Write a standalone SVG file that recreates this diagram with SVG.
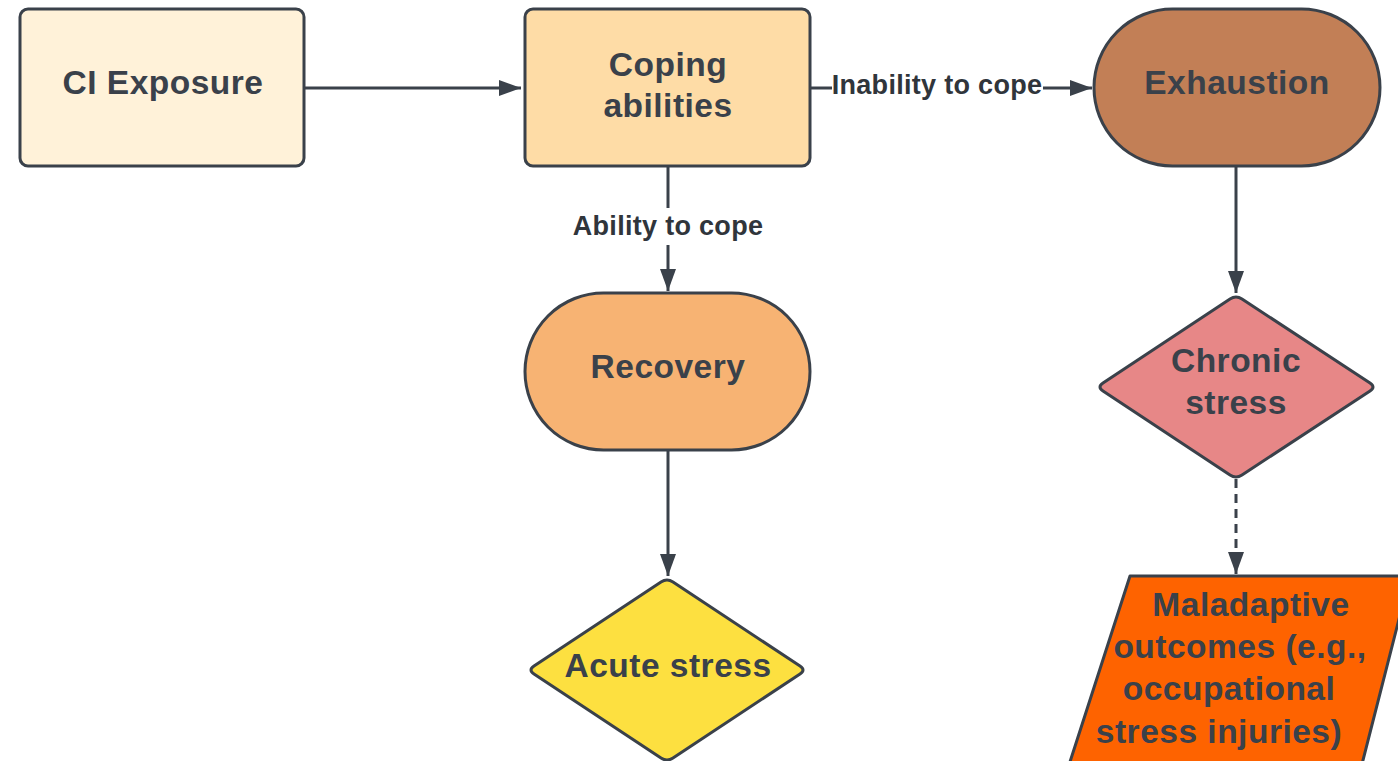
<svg xmlns="http://www.w3.org/2000/svg" width="1398" height="761" viewBox="0 0 1398 761">
<style>
.s{stroke:#3a414a;stroke-width:3;stroke-linejoin:round}
.t{font-family:"Liberation Sans",Arial,sans-serif;font-weight:bold;font-size:33.5px;letter-spacing:0.5px;fill:#3a414a;text-anchor:middle}
.l{font-family:"Liberation Sans",Arial,sans-serif;font-weight:bold;font-size:27px;letter-spacing:0.3px;fill:#30353b;text-anchor:middle}
.c{fill:none;stroke:#3a414a;stroke-width:3}
</style>
<defs>
<marker id="a" markerWidth="24" markerHeight="18" refX="22" refY="8" orient="auto" markerUnits="userSpaceOnUse">
<path d="M0,0 L22,8 L0,16 Z" fill="#3a414a"/>
</marker>
</defs>
<rect width="1398" height="761" fill="#ffffff"/>
<g id="connectors">
<line class="c" x1="305" y1="88" x2="521" y2="88" marker-end="url(#a)"/>
<line class="c" x1="810" y1="88" x2="832" y2="88"/>
<line class="c" x1="1043" y1="88" x2="1092" y2="88" marker-end="url(#a)"/>
<text class="l" x="937" y="94">Inability to cope</text>
<line class="c" x1="668" y1="166" x2="668" y2="208"/>
<line class="c" x1="668" y1="245" x2="668" y2="291" marker-end="url(#a)"/>
<text class="l" x="668" y="235">Ability to cope</text>
<line class="c" x1="1236" y1="166" x2="1236" y2="293" marker-end="url(#a)"/>
<line class="c" x1="668" y1="450" x2="668" y2="576" marker-end="url(#a)"/>
<line class="c" x1="1236" y1="479" x2="1236" y2="574" stroke-dasharray="9,6" marker-end="url(#a)"/>
</g>
<g id="ci-exposure">
<rect class="s" x="20" y="9" width="284" height="157" rx="8" fill="#fff2d9"/>
<text class="t" x="163" y="94">CI Exposure</text>
</g>
<g id="coping">
<rect class="s" x="525" y="9" width="285" height="157" rx="8" fill="#fedca6"/>
<text class="t" x="668" y="76">Coping</text>
<text class="t" x="668" y="117">abilities</text>
</g>
<g id="exhaustion">
<rect class="s" x="1094" y="9" width="286" height="157" rx="78.5" fill="#c27f56"/>
<text class="t" x="1237" y="94">Exhaustion</text>
</g>
<g id="recovery">
<rect class="s" x="525" y="293" width="285" height="157" rx="78.5" fill="#f7b373"/>
<text class="t" x="668" y="378">Recovery</text>
</g>
<g id="chronic-stress">
<path class="s" d="M1230,299 Q1236,295 1242,299 L1370,383 Q1376,387 1370,391 L1242,475 Q1236,479 1230,475 L1103,391 Q1097,387 1103,383 Z" fill="#e78787"/>
<text class="t" x="1236" y="372">Chronic</text>
<text class="t" x="1236" y="414">stress</text>
</g>
<g id="acute-stress">
<path class="s" d="M661,582 Q667,578 673,582 L800,666 Q806,670 800,674 L673,758 Q667,762 661,758 L534,674 Q528,670 534,666 Z" fill="#fde040"/>
<text class="t" x="668" y="677">Acute stress</text>
</g>
<g id="maladaptive">
<path class="s" d="M1130,576 L1410,576 L1361,768 L1068,768 Z" fill="#fe6300"/>
<text class="t" x="1251" y="616">Maladaptive</text>
<text class="t" x="1240" y="658">outcomes (e.g.,</text>
<text class="t" x="1229" y="700">occupational</text>
<text class="t" x="1219" y="743">stress injuries)</text>
</g>
</svg>
